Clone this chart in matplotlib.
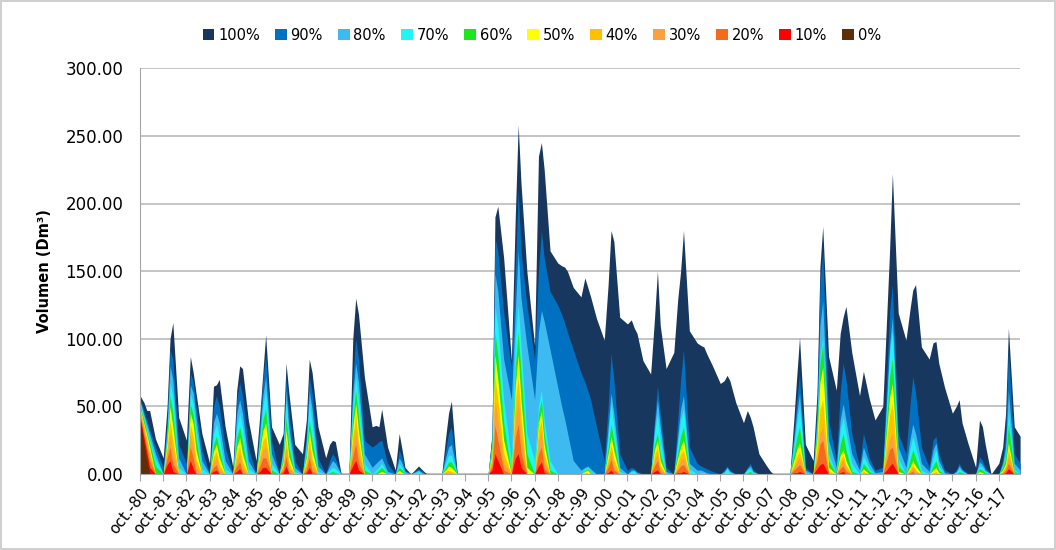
import datetime as dt
import matplotlib
matplotlib.use("Agg")
import matplotlib.pyplot as plt
import matplotlib.dates as mdates
import matplotlib.ticker as mticker
from matplotlib.patches import Patch

plt.rcParams["font.family"] = ["DejaVu Sans"]

# años hidrologicos oct-80 ... oct-17
anios = list(range(1980, 2018))
fechas_anio = [(0, 10, 1), (0, 12, 1), (1, 1, 16), (1, 3, 1), (1, 6, 1)]
fecha_final = dt.date(2018, 9, 1)

# volumen (Dm3) por percentil, 5 lecturas por año + cierre
v100 = [58, 53, 47, 47, 26, 12, 50, 100, 112, 42, 25, 87, 75, 60, 30, 8, 65, 66, 70, 35, 5, 62, 80, 78, 40,
        10, 45, 75, 103, 35, 22, 30, 82, 60, 22, 15, 40, 85, 75, 35, 12, 22, 25, 24, 0, 0, 100, 130, 118, 72,
        35, 36, 35, 48, 20, 3, 30, 18, 5, 0, 6, 3, 1, 0, 0, 0, 27, 45, 54, 0, 0, 0, 0, 0, 0,
        0, 30, 190, 198, 160, 84, 190, 258, 215, 150, 95, 235, 245, 225, 165, 156, 154, 153, 150, 138, 131, 145, 138, 131, 115,
        99, 140, 180, 172, 116, 111, 114, 108, 104, 84, 74, 115, 150, 110, 78, 90, 129, 150, 180, 106, 97, 95, 94, 89, 80,
        67, 69, 73, 69, 53, 38, 47, 42, 35, 15, 6, 2, 0, 0, 0, 0, 40, 72, 101, 22, 10, 60, 153, 183, 87,
        62, 104, 116, 124, 90, 58, 76, 66, 56, 40, 50, 115, 165, 222, 119, 99, 121, 136, 140, 94, 85, 97, 98, 82, 64,
        45, 50, 55, 38, 23, 5, 40, 35, 22, 0, 8, 20, 45, 108, 35,
        28]
v90 = [56, 47, 40, 33, 20, 5, 40, 92, 85, 22, 8, 75, 68, 50, 18, 0, 50, 58, 50, 20, 0, 55, 68, 58, 20,
       0, 40, 70, 88, 25, 0, 22, 72, 45, 10, 0, 30, 72, 60, 12, 0, 10, 15, 12, 0, 0, 70, 100, 85, 25,
       20, 22, 24, 25, 8, 0, 18, 12, 3, 0, 4, 2, 0, 0, 0, 0, 18, 30, 35, 0, 0, 0, 0, 0, 0,
       0, 28, 175, 165, 120, 78, 150, 210, 165, 125, 85, 150, 180, 160, 135, 125, 118, 112, 105, 92, 75, 68, 62, 55, 35,
       10, 50, 89, 70, 15, 3, 5, 4, 2, 0, 0, 40, 65, 45, 5, 0, 40, 70, 92, 20, 8, 6, 5, 4, 2,
       0, 3, 6, 3, 0, 0, 5, 8, 3, 0, 0, 0, 0, 0, 0, 0, 30, 55, 74, 5, 0, 50, 140, 165, 40,
       10, 60, 82, 70, 30, 5, 30, 22, 12, 3, 5, 70, 120, 140, 30, 15, 50, 72, 60, 20, 5, 25, 28, 15, 3,
       0, 3, 8, 4, 0, 0, 13, 10, 5, 0, 0, 10, 30, 92, 15,
       8]
v80 = [54, 44, 37, 30, 15, 0, 35, 80, 70, 12, 0, 66, 60, 42, 10, 0, 38, 45, 38, 10, 0, 45, 55, 45, 10,
       0, 32, 58, 72, 15, 0, 18, 62, 35, 5, 0, 25, 62, 48, 6, 0, 6, 10, 8, 0, 0, 60, 82, 68, 15,
       5, 8, 10, 12, 2, 0, 12, 8, 2, 0, 3, 1, 0, 0, 0, 0, 12, 20, 22, 0, 0, 0, 0, 0, 0,
       0, 25, 148, 135, 85, 55, 120, 165, 130, 95, 55, 105, 121, 113, 92, 64, 50, 41, 31, 10, 3, 5, 6, 4, 0,
       0, 35, 60, 45, 5, 0, 3, 3, 1, 0, 0, 35, 55, 35, 2, 0, 28, 48, 58, 8, 3, 3, 2, 1, 0,
       0, 2, 5, 2, 0, 0, 4, 6, 2, 0, 0, 0, 0, 0, 0, 0, 25, 45, 60, 3, 0, 42, 110, 128, 25,
       5, 40, 52, 40, 15, 3, 20, 14, 8, 1, 2, 55, 95, 116, 20, 5, 25, 37, 30, 8, 2, 18, 23, 10, 1,
       0, 2, 6, 3, 0, 0, 9, 7, 3, 0, 0, 8, 20, 62, 8,
       3]
v70 = [53, 42, 34, 26, 11, 0, 30, 68, 58, 5, 0, 60, 52, 34, 4, 0, 30, 37, 28, 4, 0, 35, 45, 35, 4,
       0, 27, 50, 62, 8, 0, 15, 55, 28, 2, 0, 20, 54, 38, 2, 0, 3, 5, 4, 0, 0, 52, 72, 55, 8,
       0, 3, 5, 8, 0, 0, 8, 5, 0, 0, 2, 0, 0, 0, 0, 0, 8, 14, 14, 0, 0, 0, 0, 0, 0,
       0, 22, 124, 110, 55, 10, 100, 125, 95, 30, 10, 50, 62, 40, 10, 0, 0, 0, 0, 0, 0, 4, 5, 2, 0,
       0, 28, 52, 35, 2, 0, 2, 2, 0, 0, 0, 30, 45, 25, 0, 0, 22, 40, 48, 4, 0, 1, 1, 0, 0,
       0, 1, 4, 1, 0, 0, 3, 4, 1, 0, 0, 0, 0, 0, 0, 0, 20, 38, 50, 1, 0, 35, 88, 101, 15,
       0, 32, 42, 30, 8, 0, 13, 9, 4, 0, 0, 50, 90, 106, 12, 0, 18, 28, 20, 3, 0, 12, 18, 6, 0,
       0, 1, 4, 2, 0, 0, 6, 5, 2, 0, 0, 6, 15, 47, 4,
       0]
v60 = [51, 40, 31, 23, 6, 0, 27, 58, 45, 0, 0, 52, 44, 26, 0, 0, 22, 28, 18, 0, 0, 27, 35, 24, 0,
       0, 22, 40, 48, 3, 0, 12, 42, 20, 0, 0, 15, 40, 25, 0, 0, 1, 2, 1, 0, 0, 42, 62, 42, 3,
       0, 1, 3, 5, 0, 0, 5, 3, 0, 0, 0, 0, 0, 0, 0, 0, 5, 9, 9, 0, 0, 0, 0, 0, 0,
       0, 18, 105, 88, 38, 0, 80, 105, 75, 15, 0, 45, 55, 30, 3, 0, 0, 0, 0, 0, 0, 3, 4, 1, 0,
       0, 20, 37, 25, 0, 0, 0, 0, 0, 0, 0, 22, 30, 15, 0, 0, 16, 28, 35, 0, 0, 0, 0, 0, 0,
       0, 0, 0, 0, 0, 0, 1, 2, 0, 0, 0, 0, 0, 0, 0, 0, 15, 27, 35, 0, 0, 32, 82, 96, 10,
       0, 22, 30, 18, 2, 0, 8, 5, 2, 0, 0, 40, 72, 85, 6, 0, 10, 18, 12, 0, 0, 6, 10, 3, 0,
       0, 0, 2, 1, 0, 0, 4, 3, 1, 0, 0, 5, 12, 37, 2,
       0]
v50 = [49, 37, 29, 20, 0, 0, 24, 50, 35, 0, 0, 45, 37, 18, 0, 0, 17, 22, 12, 0, 0, 20, 27, 15, 0,
       0, 18, 32, 38, 0, 0, 9, 33, 13, 0, 0, 12, 32, 17, 0, 0, 0, 0, 0, 0, 0, 35, 52, 32, 0,
       0, 0, 1, 2, 0, 0, 3, 1, 0, 0, 0, 0, 0, 0, 0, 0, 3, 6, 5, 0, 0, 0, 0, 0, 0,
       0, 15, 88, 70, 25, 0, 65, 88, 55, 5, 0, 38, 47, 22, 0, 0, 0, 0, 0, 0, 0, 2, 3, 0, 0,
       0, 15, 28, 17, 0, 0, 0, 0, 0, 0, 0, 18, 25, 10, 0, 0, 12, 20, 25, 0, 0, 0, 0, 0, 0,
       0, 0, 0, 0, 0, 0, 0, 0, 0, 0, 0, 0, 0, 0, 0, 0, 10, 18, 23, 0, 0, 27, 68, 79, 5,
       0, 14, 18, 10, 0, 0, 4, 2, 0, 0, 0, 32, 57, 67, 2, 0, 5, 10, 6, 0, 0, 3, 5, 1, 0,
       0, 0, 0, 0, 0, 0, 2, 1, 0, 0, 0, 3, 8, 23, 0,
       0]
v40 = [48, 36, 26, 17, 0, 0, 20, 40, 25, 0, 0, 37, 28, 11, 0, 0, 13, 17, 7, 0, 0, 15, 21, 9, 0,
       0, 14, 25, 28, 0, 0, 7, 26, 8, 0, 0, 9, 26, 11, 0, 0, 0, 0, 0, 0, 0, 28, 44, 23, 0,
       0, 0, 0, 0, 0, 0, 1, 0, 0, 0, 0, 0, 0, 0, 0, 0, 2, 3, 2, 0, 0, 0, 0, 0, 0,
       0, 12, 72, 55, 15, 0, 55, 72, 42, 0, 0, 32, 40, 15, 0, 0, 0, 0, 0, 0, 0, 1, 1, 0, 0,
       0, 11, 22, 11, 0, 0, 0, 0, 0, 0, 0, 14, 20, 6, 0, 0, 8, 15, 18, 0, 0, 0, 0, 0, 0,
       0, 0, 0, 0, 0, 0, 0, 0, 0, 0, 0, 0, 0, 0, 0, 0, 7, 13, 17, 0, 0, 20, 48, 55, 2,
       0, 10, 14, 7, 0, 0, 2, 1, 0, 0, 0, 25, 44, 52, 0, 0, 3, 7, 3, 0, 0, 1, 2, 0, 0,
       0, 0, 0, 0, 0, 0, 0, 0, 0, 0, 0, 2, 6, 18, 0,
       0]
v30 = [46, 33, 23, 13, 0, 0, 16, 30, 16, 0, 0, 29, 20, 5, 0, 0, 9, 12, 3, 0, 0, 10, 15, 4, 0,
       0, 10, 18, 20, 0, 0, 5, 20, 4, 0, 0, 6, 19, 6, 0, 0, 0, 0, 0, 0, 0, 20, 33, 15, 0,
       0, 0, 0, 0, 0, 0, 0, 0, 0, 0, 0, 0, 0, 0, 0, 0, 1, 1, 0, 0, 0, 0, 0, 0, 0,
       0, 9, 55, 40, 8, 0, 40, 55, 28, 0, 0, 25, 32, 9, 0, 0, 0, 0, 0, 0, 0, 0, 0, 0, 0,
       0, 8, 17, 6, 0, 0, 0, 0, 0, 0, 0, 10, 15, 3, 0, 0, 5, 10, 12, 0, 0, 0, 0, 0, 0,
       0, 0, 0, 0, 0, 0, 0, 0, 0, 0, 0, 0, 0, 0, 0, 0, 5, 9, 12, 0, 0, 13, 30, 35, 0,
       0, 7, 10, 4, 0, 0, 0, 0, 0, 0, 0, 15, 26, 30, 0, 0, 2, 5, 2, 0, 0, 0, 0, 0, 0,
       0, 0, 0, 0, 0, 0, 0, 0, 0, 0, 0, 1, 4, 13, 0,
       0]
v20 = [44, 30, 20, 10, 0, 0, 12, 20, 8, 0, 0, 20, 12, 1, 0, 0, 5, 7, 0, 0, 0, 6, 9, 1, 0,
       0, 6, 12, 12, 0, 0, 3, 13, 1, 0, 0, 3, 12, 2, 0, 0, 0, 0, 0, 0, 0, 13, 22, 8, 0,
       0, 0, 0, 0, 0, 0, 0, 0, 0, 0, 0, 0, 0, 0, 0, 0, 0, 0, 0, 0, 0, 0, 0, 0, 0,
       0, 6, 36, 25, 3, 0, 27, 37, 16, 0, 0, 15, 20, 4, 0, 0, 0, 0, 0, 0, 0, 0, 0, 0, 0,
       0, 5, 11, 3, 0, 0, 0, 0, 0, 0, 0, 6, 10, 1, 0, 0, 3, 6, 7, 0, 0, 0, 0, 0, 0,
       0, 0, 0, 0, 0, 0, 0, 0, 0, 0, 0, 0, 0, 0, 0, 0, 3, 5, 7, 0, 0, 10, 22, 25, 0,
       0, 4, 6, 2, 0, 0, 0, 0, 0, 0, 0, 10, 18, 20, 0, 0, 1, 2, 0, 0, 0, 0, 0, 0, 0,
       0, 0, 0, 0, 0, 0, 0, 0, 0, 0, 0, 1, 3, 8, 0,
       0]
v10 = [42, 27, 16, 5, 0, 0, 7, 10, 2, 0, 0, 10, 4, 0, 0, 0, 2, 3, 0, 0, 0, 2, 4, 0, 0,
       0, 2, 5, 5, 0, 0, 1, 6, 0, 0, 0, 1, 5, 0, 0, 0, 0, 0, 0, 0, 0, 6, 10, 3, 0,
       0, 0, 0, 0, 0, 0, 0, 0, 0, 0, 0, 0, 0, 0, 0, 0, 0, 0, 0, 0, 0, 0, 0, 0, 0,
       0, 3, 15, 10, 0, 0, 12, 15, 5, 0, 0, 6, 9, 1, 0, 0, 0, 0, 0, 0, 0, 0, 0, 0, 0,
       0, 1, 3, 0, 0, 0, 0, 0, 0, 0, 0, 2, 3, 0, 0, 0, 1, 1, 2, 0, 0, 0, 0, 0, 0,
       0, 0, 0, 0, 0, 0, 0, 0, 0, 0, 0, 0, 0, 0, 0, 0, 1, 1, 2, 0, 0, 4, 7, 8, 0,
       0, 1, 2, 0, 0, 0, 0, 0, 0, 0, 0, 3, 6, 8, 0, 0, 0, 0, 0, 0, 0, 0, 0, 0, 0,
       0, 0, 0, 0, 0, 0, 0, 0, 0, 0, 0, 0, 1, 4, 0,
       0]
# 0%: solo el primer año tiene volumen
v0 = [40, 23, 11, 0, 0] + [0] * (37 * 5 + 1)

etiquetas = ["100%", "90%", "80%", "70%", "60%", "50%", "40%", "30%", "20%", "10%", "0%"]
colores = ["#17375E", "#0070C0", "#3DBBF0", "#1FF5F5", "#1EE61E", "#FFFF00",
           "#FFC000", "#F9A03F", "#F66A1C", "#FF0000", "#5C2E0A"]
valores = [v100, v90, v80, v70, v60, v50, v40, v30, v20, v10, v0]

fechas = []
for a in anios:
    for da, m, d in fechas_anio:
        fechas.append(dt.date(a + da, m, d))
fechas.append(fecha_final)
x = mdates.date2num(fechas)

fig, ax = plt.subplots(figsize=(10.56, 5.5), dpi=100)
fig.subplots_adjust(left=0.1326, right=0.966, bottom=0.138, top=0.876)

for lab, col, vals in zip(etiquetas, colores, valores):
    assert len(vals) == len(x), lab
    ax.fill_between(x, vals, 0, color=col, linewidth=0, zorder=2)

ax.set_ylim(0, 300)
ax.set_yticks(range(0, 301, 50))
ax.yaxis.set_major_formatter(mticker.FormatStrFormatter("%.2f"))
ax.grid(axis="y", color="#C0C0C0", linewidth=1.3, zorder=0)
ax.set_axisbelow(True)

ax.set_xlim(mdates.date2num(dt.date(1980, 10, 1)), x[-1])
ax.set_xticks(mdates.date2num([dt.date(a, 10, 1) for a in anios]))
ax.set_xticklabels(["oct.-%02d" % (a % 100) for a in anios], rotation=52,
                   ha="right", rotation_mode="anchor", fontsize=11)
ax.tick_params(axis="x", length=5, color="#A6A6A6", pad=3)
ax.tick_params(axis="y", length=0, labelsize=12, pad=12)

for s in ["top", "right"]:
    ax.spines[s].set_visible(False)
for s in ["left", "bottom"]:
    ax.spines[s].set_color("#A6A6A6")

ax.set_ylabel("Volumen (Dm³)", fontsize=10.5, fontweight="bold", labelpad=10)

handles = [Patch(facecolor=c, edgecolor="none") for c in colores]
fig.legend(handles, etiquetas, loc="center", bbox_to_anchor=(0.513, 0.936), ncol=11,
           frameon=False, fontsize=10.5, handlelength=0.8, handleheight=0.8,
           handletextpad=0.25, columnspacing=1.05)

fig.patch.set_edgecolor("#D0D0D0")
fig.patch.set_linewidth(1.5)
fig.savefig("out.png", dpi=100, edgecolor=fig.get_edgecolor())
